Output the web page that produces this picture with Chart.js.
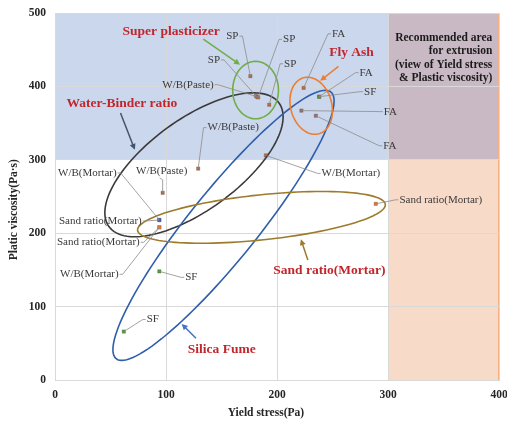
<!DOCTYPE html>
<html>
<head>
<meta charset="utf-8">
<script src="https://cdn.jsdelivr.net/npm/chart.js@4.4.0/dist/chart.umd.min.js"></script>
<style>
  html, body { margin: 0; padding: 0; background: #fff; }
</style>
</head>
<body>
<canvas id="chart" width="507" height="424"></canvas>
<script>
// values: yield stress (Pa) / plastic viscosity (Pa·s)
const xTicks = [0, 100, 200, 300, 400];
const yTicks = [0, 100, 200, 300, 400, 500];

const spX = [176, 181, 183, 193];
const spY = [414, 387, 385, 375];
const wbPasteX = [182, 129, 97];
const wbPasteY = [386, 288, 255];
const wbMortarX = [190, 94, 94];
const wbMortarY = [306, 218, 208];
const sandX = [94, 94, 289];
const sandY = [218, 208, 240];
const sfX = [238, 94, 62];
const sfY = [386, 148, 66];
const faX = [224, 238, 222, 235];
const faY = [398, 386, 367, 360];

const SERIF = "'Liberation Serif', 'Times New Roman', serif";
const RED = '#c0272d';
const BROWN = '#b8683e';

function pts(xs, ys) {
    return xs.map((x, i) => ({ x: x, y: ys[i] }));
}

// shaded areas (data units)
const regions = [
    { x0: 0, x1: 300, y0: 300, y1: 500, color: '#cbd7ec' },
    { x0: 300, x1: 400, y0: 300, y1: 500, color: '#c8b9c4' },
    { x0: 300, x1: 400, y0: 0, y1: 300, color: '#f8dac8' }
];

// group ellipses: centre + two conjugate semi-axes, all in data units
const ellipses = [
    { c: [125.2, 293.2], u: [76.6, 84.2], v: [24.1, -50.2], color: '#3a3a3a' },
    { c: [151.8, 210.7], u: [96.7, 181.7], v: [24.0, -29.1], color: '#2f5eaa' },
    { c: [186.0, 221.6], u: [111.6, 17.7], v: [2.1, -30.5], color: '#9c7b2c' },
    { c: [180.7, 395.0], u: [20.6, 0], v: [0, 39.1], color: '#70ad47' },
    { c: [230.8, 373.6], u: [-6.8, 38.2], v: [17.9, 7.2], color: '#ed7d31' }
];

// point labels: dataset, index, offset of label centre in px
const pointLabels = [
    { ds: 0, i: 0, text: 'SP', dx: -18, dy: -40 },
    { ds: 0, i: 1, text: 'SP', dx: -42, dy: -36 },
    { ds: 0, i: 2, text: 'SP', dx: 31, dy: -58 },
    { ds: 0, i: 3, text: 'SP', dx: 21, dy: -41 },
    { ds: 1, i: 0, text: 'W/B(Paste)', dx: -69, dy: -12 },
    { ds: 1, i: 1, text: 'W/B(Paste)', dx: 35, dy: -41 },
    { ds: 1, i: 2, text: 'W/B(Paste)', dx: -1, dy: -22 },
    { ds: 2, i: 1, text: 'W/B(Mortar)', dx: -72, dy: -47 },
    { ds: 3, i: 0, text: 'Sand ratio(Mortar)', dx: -59, dy: 1 },
    { ds: 3, i: 1, text: 'Sand ratio(Mortar)', dx: -61, dy: 15 },
    { ds: 2, i: 2, text: 'W/B(Mortar)', dx: -70, dy: 47 },
    { ds: 4, i: 1, text: 'SF', dx: 32, dy: 6 },
    { ds: 4, i: 2, text: 'SF', dx: 29, dy: -12 },
    { ds: 2, i: 0, text: 'W/B(Mortar)', dx: 85, dy: 18 },
    { ds: 3, i: 2, text: 'Sand ratio(Mortar)', dx: 65, dy: -4 },
    { ds: 5, i: 0, text: 'FA', dx: 35, dy: -54 },
    { ds: 5, i: 1, text: 'FA', dx: 47, dy: -24 },
    { ds: 4, i: 0, text: 'SF', dx: 51, dy: -5 },
    { ds: 5, i: 2, text: 'FA', dx: 89, dy: 1 },
    { ds: 5, i: 3, text: 'FA', dx: 74, dy: 30 }
];

// group titles with arrows (data units)
const groupLabels = [
    { text: 'Super plasticizer', at: [104.6, 474.1], from: [133.6, 464.5], to: [166.7, 429.5], color: '#70ad47' },
    { text: 'Water-Binder ratio', at: [60.2, 376.3], from: [59.0, 363.7], to: [71.9, 313.6], color: '#44546a' },
    { text: 'Fly Ash', at: [267.1, 446.3], from: [255.4, 427.2], to: [238.9, 407.7], color: '#ed7d31' },
    { text: 'Silica Fume', at: [150.2, 41.9], from: [127.0, 56.9], to: [114.1, 76.4], color: '#4472c4' },
    { text: 'Sand ratio(Mortar)', at: [247.2, 148.6], from: [227.8, 163.6], to: [221.5, 191.8], color: '#9c7b2c' }
];

const noteLines = ['Recommended area', 'for extrusion', '(view of Yield stress', '& Plastic viscosity)'];
const xTitle = 'Yield stress(Pa)';
const yTitle = 'Platic viscosity(Pa·s)';

function drawArrow(ctx, x1, y1, x2, y2, color) {
    const a = Math.atan2(y2 - y1, x2 - x1);
    ctx.strokeStyle = color;
    ctx.fillStyle = color;
    ctx.lineWidth = 1.5;
    ctx.beginPath();
    ctx.moveTo(x1, y1);
    ctx.lineTo(x2 - Math.cos(a) * 4, y2 - Math.sin(a) * 4);
    ctx.stroke();
    ctx.beginPath();
    ctx.moveTo(x2, y2);
    ctx.lineTo(x2 - Math.cos(a) * 6 + Math.sin(a) * 3, y2 - Math.sin(a) * 6 - Math.cos(a) * 3);
    ctx.lineTo(x2 - Math.cos(a) * 6 - Math.sin(a) * 3, y2 - Math.sin(a) * 6 + Math.cos(a) * 3);
    ctx.closePath();
    ctx.fill();
}

const overlay = {
    id: 'overlay',
    beforeDraw(chart) {
        const { ctx, scales: { x, y } } = chart;
        ctx.save();
        regions.forEach(r => {
            const l = x.getPixelForValue(r.x0), rt = x.getPixelForValue(r.x1);
            const t = y.getPixelForValue(r.y1), b = y.getPixelForValue(r.y0);
            ctx.fillStyle = r.color;
            ctx.fillRect(l, t, rt - l, b - t);
        });
        // thin edge on the right of the recommended area
        ctx.strokeStyle = '#f4b183';
        ctx.lineWidth = 1;
        ctx.beginPath();
        ctx.moveTo(x.getPixelForValue(400) - 0.5, y.getPixelForValue(500));
        ctx.lineTo(x.getPixelForValue(400) - 0.5, y.getPixelForValue(0));
        ctx.stroke();
        ctx.restore();
    },
    afterDatasetsDraw(chart) {
        const { ctx, scales: { x, y } } = chart;
        ctx.save();

        // ellipses
        ellipses.forEach(e => {
            ctx.strokeStyle = e.color;
            ctx.lineWidth = 1.6;
            ctx.beginPath();
            for (let k = 0; k <= 120; k++) {
                const t = k / 120 * Math.PI * 2;
                const dx = e.c[0] + Math.cos(t) * e.u[0] + Math.sin(t) * e.v[0];
                const dy = e.c[1] + Math.cos(t) * e.u[1] + Math.sin(t) * e.v[1];
                const X = x.getPixelForValue(dx), Y = y.getPixelForValue(dy);
                if (k === 0) ctx.moveTo(X, Y); else ctx.lineTo(X, Y);
            }
            ctx.closePath();
            ctx.stroke();
        });

        // point labels with leader lines
        ctx.font = '11px ' + SERIF;
        ctx.textAlign = 'center';
        ctx.textBaseline = 'middle';
        pointLabels.forEach(lb => {
            const el = chart.getDatasetMeta(lb.ds).data[lb.i];
            const px = el.x, py = el.y;
            const lx = px + lb.dx, ly = py + lb.dy;
            const w = ctx.measureText(lb.text).width;
            ctx.strokeStyle = '#8c8c8c';
            ctx.lineWidth = 0.8;
            ctx.beginPath();
            if (Math.abs(lb.dx) > w / 2 + 3) {
                const side = lb.dx > 0 ? -1 : 1;
                const ex = lx + side * (w / 2 + 1);
                ctx.moveTo(ex, ly);
                ctx.lineTo(ex + side * 3, ly);
                ctx.lineTo(px, py);
            } else {
                const ey = ly + (lb.dy < 0 ? 7 : -7);
                ctx.moveTo(lx - 2, ey);
                ctx.lineTo(px, ey + 2);
                ctx.lineTo(px, py);
            }
            ctx.stroke();
            ctx.fillStyle = '#3a3a3a';
            ctx.fillText(lb.text, lx, ly);
        });

        // group titles and arrows
        groupLabels.forEach(g => {
            drawArrow(ctx, x.getPixelForValue(g.from[0]), y.getPixelForValue(g.from[1]),
                x.getPixelForValue(g.to[0]), y.getPixelForValue(g.to[1]), g.color);
            ctx.font = 'bold 13.5px ' + SERIF;
            ctx.fillStyle = RED;
            ctx.fillText(g.text, x.getPixelForValue(g.at[0]), y.getPixelForValue(g.at[1]));
        });

        // note in the recommended area
        ctx.font = 'bold 11.5px ' + SERIF;
        ctx.fillStyle = '#1a1a1a';
        ctx.textAlign = 'right';
        const nx = x.getPixelForValue(394), ny = y.getPixelForValue(466);
        noteLines.forEach((t, k) => ctx.fillText(t, nx, ny + k * 13.3));

        // axis titles (centred the way the original sits, a bit off the plot centre)
        ctx.font = 'bold 11.5px ' + SERIF;
        ctx.fillStyle = '#262626';
        ctx.textAlign = 'center';
        ctx.fillText(xTitle, x.getPixelForValue(190), 413);
        ctx.translate(14, y.getPixelForValue(232));
        ctx.rotate(-Math.PI / 2);
        ctx.fillText(yTitle, 0, 0);

        ctx.restore();
    }
};

const axisFont = { family: SERIF, size: 11.5, weight: 'bold' };

new Chart(document.getElementById('chart'), {
    type: 'scatter',
    data: {
        datasets: [
            { label: 'SP', data: pts(spX, spY), backgroundColor: BROWN },
            { label: 'W/B(Paste)', data: pts(wbPasteX, wbPasteY), backgroundColor: BROWN },
            { label: 'W/B(Mortar)', data: pts(wbMortarX, wbMortarY), backgroundColor: [BROWN, '#3a5fa8', '#ed7d31'] },
            { label: 'Sand ratio(Mortar)', data: pts(sandX, sandY), backgroundColor: ['#3a5fa8', '#ed7d31', '#e0703a'] },
            { label: 'SF', data: pts(sfX, sfY), backgroundColor: '#4e9a3a' },
            { label: 'FA', data: pts(faX, faY), backgroundColor: [BROWN, BROWN, '#9a6a6a', '#9a6a6a'] }
        ].map(d => Object.assign(d, {
            pointStyle: 'rect',
            pointRadius: 2.4,
            borderColor: 'rgba(110,90,80,0.6)',
            borderWidth: 0.5
        }))
    },
    options: {
        responsive: false,
        animation: false,
        devicePixelRatio: 1,
        layout: { padding: { top: 13, right: 8, left: 0, bottom: 0 } },
        plugins: { legend: { display: false }, tooltip: { enabled: false } },
        scales: {
            x: {
                type: 'linear',
                min: 0,
                max: 400,
                afterBuildTicks: s => { s.ticks = xTicks.map(v => ({ value: v })); },
                afterFit: s => { s.height = 44; s.paddingLeft = 0; s.paddingRight = 0; },
                ticks: { font: axisFont, color: '#262626', padding: 8 },
                grid: { color: '#d9d9d9', drawTicks: false },
                border: { color: '#d9d9d9' }
            },
            y: {
                type: 'linear',
                min: 0,
                max: 500,
                afterBuildTicks: s => { s.ticks = yTicks.map(v => ({ value: v })); },
                afterFit: s => { s.width = 55; s.paddingTop = 0; s.paddingBottom = 0; },
                ticks: { font: axisFont, color: '#262626', padding: 9 },
                grid: { color: '#d9d9d9', drawTicks: false },
                border: { color: '#d9d9d9' }
            }
        }
    },
    plugins: [overlay]
});
</script>
</body>
</html>
